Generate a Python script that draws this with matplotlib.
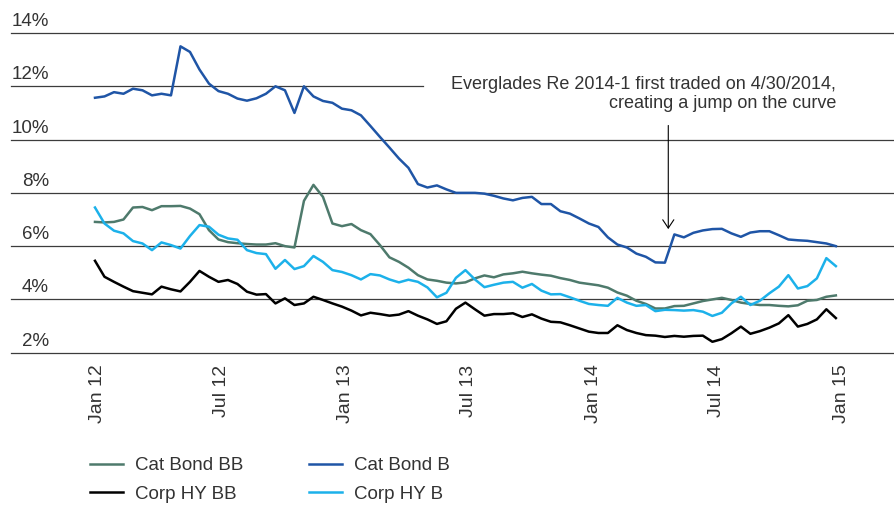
import matplotlib
matplotlib.use('Agg')
import matplotlib.pyplot as plt
import matplotlib.dates as mdates
import pandas as pd
from matplotlib.transforms import offset_copy, ScaledTranslation

plt.rcParams['font.family'] = ['Liberation Sans', 'DejaVu Sans']
TEXT = '#333333'

# biweekly observations, Jan 2012 - Jan 2015
dates = pd.date_range('2012-01-06', periods=79, freq='14D')

cat_bond_bb = [6.91, 6.89, 6.91, 7.00, 7.45, 7.47, 7.35, 7.50, 7.50, 7.51,
               7.41, 7.20, 6.60, 6.25, 6.15, 6.11, 6.08, 6.06, 6.06, 6.11,
               6.00, 5.95, 7.70, 8.30, 7.85, 6.85, 6.75, 6.83, 6.60, 6.45,
               6.04, 5.58, 5.41, 5.19, 4.91, 4.75, 4.70, 4.63, 4.60, 4.64,
               4.79, 4.90, 4.83, 4.94, 4.98, 5.04, 4.98, 4.93, 4.89, 4.80,
               4.73, 4.63, 4.58, 4.53, 4.44, 4.26, 4.14, 3.95, 3.83, 3.66,
               3.66, 3.75, 3.76, 3.85, 3.94, 4.00, 4.06, 3.98, 3.88, 3.83,
               3.79, 3.79, 3.76, 3.74, 3.78, 3.95, 3.98, 4.10, 4.15]

cat_bond_b = [11.57, 11.62, 11.78, 11.72, 11.91, 11.85, 11.66, 11.72, 11.66, 13.50,
              13.29, 12.63, 12.10, 11.82, 11.72, 11.54, 11.46, 11.55, 11.72, 12.00,
              11.85, 11.00, 12.00, 11.62, 11.45, 11.38, 11.16, 11.10, 10.91, 10.51,
              10.10, 9.70, 9.29, 8.94, 8.33, 8.20, 8.28, 8.13, 8.00, 8.00,
              8.00, 7.97, 7.89, 7.79, 7.72, 7.81, 7.85, 7.58, 7.58, 7.31,
              7.22, 7.04, 6.85, 6.72, 6.33, 6.06, 5.95, 5.72, 5.60, 5.39,
              5.38, 6.44, 6.33, 6.50, 6.59, 6.64, 6.65, 6.48, 6.35, 6.51,
              6.56, 6.56, 6.41, 6.25, 6.22, 6.20, 6.15, 6.10, 6.00]

corp_hy_bb = [5.45, 4.85, 4.66, 4.48, 4.31, 4.25, 4.19, 4.48, 4.38, 4.30,
              4.66, 5.07, 4.85, 4.66, 4.73, 4.58, 4.29, 4.18, 4.20, 3.85,
              4.04, 3.79, 3.85, 4.10, 3.98, 3.85, 3.73, 3.58, 3.40, 3.50,
              3.45, 3.39, 3.43, 3.56, 3.39, 3.25, 3.08, 3.18, 3.65, 3.88,
              3.63, 3.39, 3.45, 3.45, 3.48, 3.34, 3.44, 3.28, 3.16, 3.14,
              3.03, 2.91, 2.79, 2.74, 2.74, 3.03, 2.85, 2.74, 2.66, 2.64,
              2.59, 2.63, 2.60, 2.63, 2.64, 2.41, 2.51, 2.73, 2.98, 2.71,
              2.81, 2.94, 3.10, 3.41, 2.98, 3.08, 3.25, 3.63, 3.30]

corp_hy_b = [7.45, 6.85, 6.58, 6.48, 6.19, 6.10, 5.85, 6.14, 6.04, 5.91,
             6.38, 6.79, 6.73, 6.43, 6.29, 6.24, 5.85, 5.74, 5.70, 5.15,
             5.48, 5.14, 5.25, 5.63, 5.41, 5.10, 5.03, 4.91, 4.75, 4.95,
             4.90, 4.75, 4.64, 4.74, 4.66, 4.45, 4.08, 4.25, 4.81, 5.10,
             4.75, 4.46, 4.55, 4.63, 4.66, 4.44, 4.58, 4.33, 4.19, 4.20,
             4.08, 3.95, 3.83, 3.79, 3.76, 4.06, 3.88, 3.76, 3.79, 3.56,
             3.61, 3.60, 3.58, 3.60, 3.54, 3.38, 3.50, 3.85, 4.10, 3.79,
             3.95, 4.23, 4.48, 4.91, 4.41, 4.50, 4.79, 5.55, 5.25]

y_ticks = [2, 4, 6, 8, 10, 12, 14]
jump_date = pd.Timestamp('2014-04-30')
note = 'Everglades Re 2014-1 first traded on 4/30/2014,\ncreating a jump on the curve'

fig = plt.figure(figsize=(8.94, 5.08), dpi=100)
ax = fig.add_axes([11 / 894, 0.3057, 883 / 894, 0.6293])

d0 = mdates.date2num(pd.Timestamp('2012-01-01'))
ax.set_xlim(d0 - 118.8, d0 + 1182.7)
ax.set_ylim(2, 14)

# horizontal gridlines (12% line is cut short by the note)
for v in y_ticks:
    ax.axhline(v, color='#3c3c3c', lw=0.9, zorder=1, clip_on=False,
               xmax=0.4666 if v == 12 else 1)

lab_trans = offset_copy(ax.get_yaxis_transform(), fig=fig, y=7, units='dots')
for v in y_ticks:
    ax.text(38 / 883, v, f'{v}%', transform=lab_trans, ha='right', va='baseline',
            fontsize=13.5, color=TEXT)

l_bb, = ax.plot(dates, cat_bond_bb, color='#4e7a6c', lw=1.8, label='Cat Bond BB', zorder=3)
l_b, = ax.plot(dates, cat_bond_b, color='#1f55a6', lw=1.8, label='Cat Bond B', zorder=3)
l_hbb, = ax.plot(dates, corp_hy_bb, color='black', lw=1.8, label='Corp HY BB', zorder=3)
l_hb, = ax.plot(dates, corp_hy_b, color='#1cb1ea', lw=1.8, label='Corp HY B', zorder=3)

ax.xaxis.set_major_locator(mdates.MonthLocator(bymonth=[1, 7]))
ax.xaxis.set_major_formatter(mdates.DateFormatter('%b %y'))
ax.tick_params(axis='x', length=0, pad=8.5, labelsize=14, labelcolor=TEXT, labelrotation=90)
ax.set_yticks([])
for s in ax.spines.values():
    s.set_visible(False)
# nudge the rotated date labels a little to the right
shift = ScaledTranslation(6 / 100, 0, fig.dpi_scale_trans)
for lab in ax.get_xticklabels():
    lab.set_transform(lab.get_transform() + shift)

# annotation
ax.annotate('', xy=(jump_date, 6.64), xytext=(jump_date, 10.53),
            arrowprops=dict(arrowstyle='->,head_length=0.6,head_width=0.4',
                            color='black', lw=0.8, shrinkA=0, shrinkB=0))
ax.text((836 - 11) / 883, 11.72, note, transform=ax.get_yaxis_transform(),
        ha='right', va='center', multialignment='right', linespacing=1.12,
        fontsize=13, color=TEXT)

fig.legend([l_bb, l_hbb, l_b, l_hb], ['Cat Bond BB', 'Corp HY BB', 'Cat Bond B', 'Corp HY B'],
           loc='upper left', bbox_to_anchor=(90 / 894, 1 - 457 / 508), ncol=2,
           frameon=False, fontsize=13.5, handlelength=1.76, handletextpad=0.64,
           columnspacing=3.5, labelspacing=0.62, borderpad=0, borderaxespad=0,
           labelcolor=TEXT)

fig.savefig('out.png', dpi=100)
